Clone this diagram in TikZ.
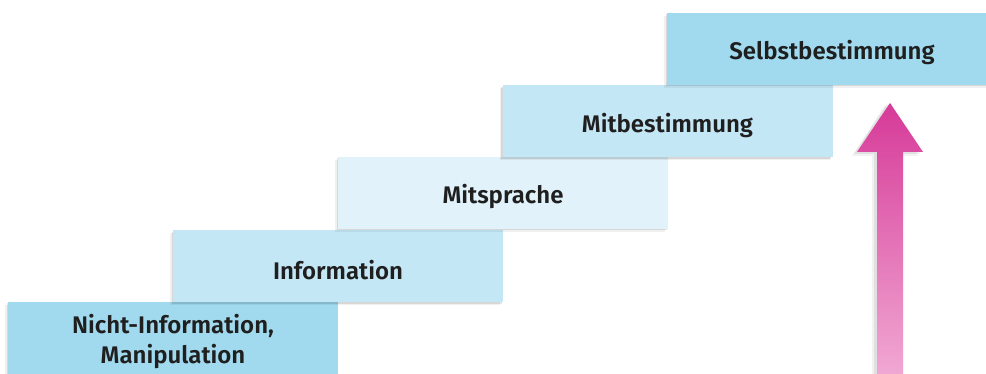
\documentclass[tikz,border=0pt]{standalone}
\usepackage{fontspec}
\setmainfont{Fira Sans}[BoldFont={Fira Sans SemiBold}]
\usetikzlibrary{shadows}
\definecolor{stepdark}{HTML}{A1DAEE}
\definecolor{stepmid}{HTML}{C4E7F6}
\definecolor{steplight}{HTML}{E1F2FA}
\definecolor{arrowtop}{HTML}{D63A98}
\definecolor{arrowbot}{HTML}{F1AAD4}
\begin{document}
\begin{tikzpicture}[x=1pt,y=-1pt,
  stairtext/.style={align=center, inner sep=0pt, yshift=-4pt,
    font=\fontsize{24}{30}\selectfont\bfseries, text=black!88},
  stairbox/.style={rectangle, minimum width=330pt, minimum height=72pt, inner sep=0pt,
    general shadow={shadow xshift=-3pt, shadow yshift=-3pt, fill=black, opacity=0.06},
    general shadow={shadow xshift=-1.5pt, shadow yshift=-1.5pt, fill=black, opacity=0.10},
    label={[stairtext]center:#1}},
]
\clip (0,0) rectangle (986,374);
\fill[white] (0,0) rectangle (986,374);
\node[stairbox={Nicht-Information,\\Manipulation}, fill=stepdark] (s1) at (173,338) {};
\node[stairbox=Information, fill=stepmid] (s2) at (338,266.5) {};
\node[stairbox=Mitsprache, fill=steplight] (s3) at (503,193) {};
\node[stairbox=Mitbestimmung, fill=stepmid] (s4) at (667.5,121.5) {};
\node[stairbox=Selbstbestimmung, fill=stepdark] (s5) at (832,49) {};
% arrow shadow
\fill[black, opacity=0.07] (887,104) -- (920,154) -- (900,154) -- (900,380) -- (874,380) -- (874,154) -- (854,154) -- cycle;
\fill[black, opacity=0.05] (885,105) -- (918,156) -- (898,156) -- (898,380) -- (872,380) -- (872,156) -- (852,156) -- cycle;
\shade[top color=arrowtop, bottom color=arrowbot] (890,103) -- (923,152) -- (903,152) -- (903,380) -- (877,380) -- (877,152) -- (857,152) -- cycle;
\end{tikzpicture}
\end{document}
